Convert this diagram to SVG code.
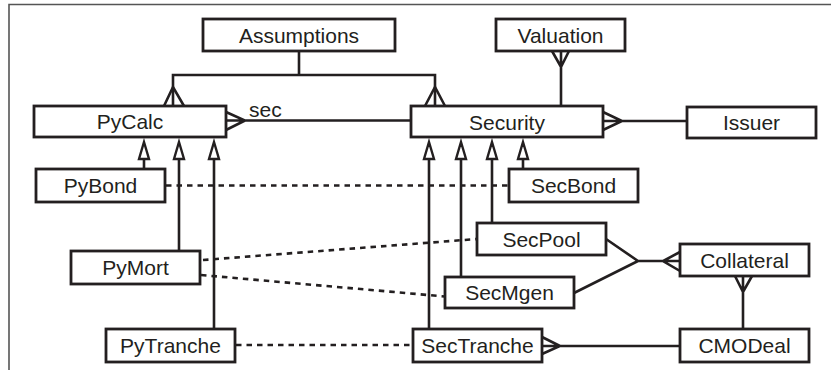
<svg xmlns="http://www.w3.org/2000/svg" width="831" height="370" viewBox="0 0 831 370">
  <style>
    .box rect { fill: #fff; stroke: #231f20; stroke-width: 2.8; }
    .box text { font-family: "Liberation Sans", Arial, sans-serif; font-size: 21px; fill: #231f20; text-anchor: middle; }
    .ln { fill: none; stroke: #231f20; stroke-width: 2.6; }
    .dash { fill: none; stroke: #231f20; stroke-width: 2.6; stroke-dasharray: 5.5 5; }
    .tri { fill: #fff; stroke: #231f20; stroke-width: 2.4; stroke-linejoin: miter; }
    .lbl { font-family: "Liberation Sans", Arial, sans-serif; font-size: 21px; fill: #231f20; }
  </style>
  <rect width="831" height="370" fill="#fff"/>
  <!-- frame -->
  <path d="M9,370 V4.5 H831" fill="none" stroke="#555" stroke-width="1.6"/>

  <g id="connectors">
    <!-- Assumptions to PyCalc / Security -->
    <path class="ln" d="M299,51 V75 M173,106 V75 H435 V106"/>
    <path class="ln" d="M164,106 L173,87 L184,106 M425,106 L435,87 L445,106"/>
    <!-- sec: PyCalc to Security -->
    <path class="ln" d="M226,120.5 H411 M226,112 L245,120.5 L226,130"/>
    <text class="lbl" x="249" y="117">sec</text>
    <!-- Valuation to Security -->
    <path class="ln" d="M561,51 V106 M552,51 L561,67 L569,51"/>
    <!-- Security to Issuer -->
    <path class="ln" d="M603,121 H687 M603,112 L622,121 L603,130"/>
    <!-- inheritance to PyCalc -->
    <path class="ln" d="M144,159 V169 M179,159 V251 M214,159 V329"/>
    <path class="tri" d="M144,142 L149,159 L139,159 Z M179,142 L184,159 L174,159 Z M214,142 L219,159 L209,159 Z"/>
    <!-- inheritance to Security -->
    <path class="ln" d="M429,159 V329 M461,159 V277 M492,159 V223 M523,159 V169"/>
    <path class="tri" d="M429,142 L434,159 L424,159 Z M461,142 L466,159 L456,159 Z M492,142 L497,159 L487,159 Z M523,142 L528,159 L518,159 Z"/>
    <!-- SecPool / SecMgen to Collateral -->
    <path class="ln" d="M606,239 L638,261 L574,293 M638,261 H680 M680,252 L663,261 L680,271"/>
    <!-- Collateral to CMODeal -->
    <path class="ln" d="M743,276 V329 M735,276 L743,292 L752,276"/>
    <!-- SecTranche to CMODeal -->
    <path class="ln" d="M542,346 H680 M542,337 L560,346 L542,354"/>
    <!-- dashed associations -->
    <path class="dash" d="M166,185.5 H509"/>
    <path class="dash" d="M203,260 L477,239"/>
    <path class="dash" d="M201,275 L445,296.5"/>
    <path class="dash" d="M236,345 H413"/>
  </g>

  <g id="assumptions" class="box"><rect x="203" y="19" width="192" height="32"/><text x="299" y="43">Assumptions</text></g>
  <g id="valuation" class="box"><rect x="496" y="19" width="129" height="32"/><text x="560.5" y="43">Valuation</text></g>
  <g id="pycalc" class="box"><rect x="34" y="106" width="192" height="31"/><text x="130" y="129">PyCalc</text></g>
  <g id="security" class="box"><rect x="411" y="106" width="192" height="31"/><text x="507" y="129.5">Security</text></g>
  <g id="issuer" class="box"><rect x="687" y="107" width="129" height="31"/><text x="751.5" y="130">Issuer</text></g>
  <g id="pybond" class="box"><rect x="36" y="169" width="129" height="33"/><text x="100.5" y="193">PyBond</text></g>
  <g id="secbond" class="box"><rect x="509" y="169" width="129" height="33"/><text x="573.5" y="193">SecBond</text></g>
  <g id="secpool" class="box"><rect x="477" y="223" width="129" height="32"/><text x="541.5" y="246.5">SecPool</text></g>
  <g id="pymort" class="box"><rect x="71" y="251" width="129" height="33"/><text x="135.5" y="275">PyMort</text></g>
  <g id="collateral" class="box"><rect x="680" y="244" width="129" height="32"/><text x="744.5" y="267.5">Collateral</text></g>
  <g id="secmgen" class="box"><rect x="445" y="277" width="129" height="31"/><text x="509.5" y="300">SecMgen</text></g>
  <g id="pytranche" class="box"><rect x="106" y="329" width="129" height="33"/><text x="170.5" y="353">PyTranche</text></g>
  <g id="sectranche" class="box"><rect x="413" y="329" width="129" height="33"/><text x="477.5" y="353">SecTranche</text></g>
  <g id="cmodeal" class="box"><rect x="680" y="329" width="129" height="33"/><text x="744.5" y="353">CMODeal</text></g>
</svg>
